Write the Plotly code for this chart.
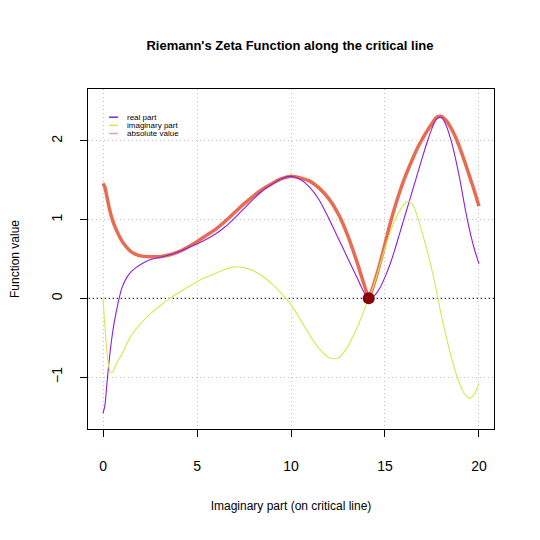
import plotly.graph_objects as go

# values
t_vals = [0, 0.1, 0.2, 0.3, 0.4, 0.5, 0.6, 0.8, 1.0, 1.25, 1.5, 1.75, 2,
          2.5, 3, 3.5, 4, 4.5, 5, 5.5, 6, 6.5, 7, 7.5, 8, 8.5, 9, 9.5, 10, 10.5,
          11, 11.5, 12, 12.5, 13, 13.5,
          13.75, 14, 14.13, 14.25,
          14.5, 14.75, 15, 15.25, 15.5, 15.75, 16, 16.25, 16.5, 16.75, 17, 17.25,
          17.5, 17.75, 18, 18.25, 18.5, 18.75, 19, 19.25, 19.5, 19.75, 20]
real_part = [-1.46, -1.36, -1.10, -0.85, -0.63, -0.45, -0.30, -0.06, 0.13, 0.26, 0.34, 0.39, 0.43,
             0.49, 0.52, 0.55, 0.59, 0.64, 0.69, 0.75, 0.82, 0.91, 1.02, 1.14, 1.26, 1.37, 1.45,
             1.52, 1.55, 1.51, 1.41, 1.25, 1.02, 0.77, 0.52, 0.27,
             0.14, 0.03, 0.0, 0.005,
             0.05, 0.14, 0.27, 0.42, 0.60, 0.80, 1.00, 1.20, 1.40, 1.60, 1.80, 1.99,
             2.16, 2.28, 2.30, 2.20, 2.02, 1.78, 1.49, 1.16, 0.87, 0.63, 0.44]
imag_part = [0.0, -0.36, -0.66, -0.86, -0.94, -0.94, -0.89, -0.79, -0.71, -0.58, -0.47, -0.39, -0.32,
             -0.20, -0.10, -0.01, 0.07, 0.14, 0.21, 0.27, 0.32, 0.37, 0.40, 0.39, 0.35, 0.28, 0.18,
             0.06, -0.08, -0.27, -0.47, -0.64, -0.75, -0.76, -0.62, -0.38,
             -0.24, -0.08, 0.0, 0.07,
             0.24, 0.44, 0.64, 0.82, 0.98, 1.10, 1.19, 1.23, 1.18, 1.02, 0.82, 0.60,
             0.36, 0.08, -0.22, -0.48, -0.72, -0.93, -1.10, -1.22, -1.27, -1.22, -1.08]
abs_value = [1.46, 1.41, 1.30, 1.18, 1.08, 1.00, 0.93, 0.82, 0.73, 0.65, 0.59, 0.56, 0.54,
             0.53, 0.53, 0.55, 0.59, 0.65, 0.72, 0.80, 0.88, 0.98, 1.09, 1.20, 1.30, 1.39, 1.46,
             1.52, 1.55, 1.53, 1.49, 1.40, 1.27, 1.08, 0.81, 0.47,
             0.28, 0.09, 0.0, 0.07,
             0.25, 0.46, 0.69, 0.93, 1.14, 1.33, 1.50, 1.65, 1.79, 1.92, 2.03, 2.13,
             2.22, 2.30, 2.31, 2.26, 2.17, 2.05, 1.90, 1.73, 1.55, 1.37, 1.17]
zero_t = [14.134725]
zero_val = [0]

x_ticks = [0, 5, 10, 15, 20]
y_ticks = [-1, 0, 1, 2]

COL_RE = "#8E1EDC"
COL_IM = "#D2EA50"
COL_ABS = "rgba(230,92,62,0.9)"
FONT = "Liberation Sans, Arial, sans-serif"

fig = go.Figure()
fig.add_trace(go.Scatter(x=t_vals, y=abs_value, mode="lines", name="absolute value",
                         line=dict(color=COL_ABS, width=3.5, shape="spline", smoothing=0.8)))
fig.add_trace(go.Scatter(x=t_vals, y=real_part, mode="lines", name="real part",
                         line=dict(color=COL_RE, width=1.1, shape="spline", smoothing=0.8)))
fig.add_trace(go.Scatter(x=t_vals, y=imag_part, mode="lines", name="imaginary part",
                         line=dict(color=COL_IM, width=1.1, shape="spline", smoothing=0.8)))
fig.add_trace(go.Scatter(x=zero_t, y=zero_val, mode="markers", name="zero",
                         marker=dict(color="#8B0000", size=12)))

# dotted zero line across the whole box
fig.add_shape(type="line", xref="paper", x0=0, x1=1, yref="y", y0=0, y1=0,
              line=dict(color="black", width=1, dash="2px,2px"), layer="below")

# hand-made legend like R's legend(bty="n")
legend_items = [("real part", COL_RE), ("imaginary part", COL_IM), ("absolute value", "#E8A0A0")]
for i, (label, col) in enumerate(legend_items):
    yy = 0.917 - i * 0.024
    fig.add_shape(type="line", xref="paper", yref="paper", x0=0.052, x1=0.074, y0=yy, y1=yy,
                  line=dict(color=col, width=1.5))
    fig.add_annotation(x=0.092, y=yy, xref="paper", yref="paper", text=label, showarrow=False,
                       xanchor="left", yanchor="middle",
                       font=dict(family=FONT, size=8, color="black"))

# the page body adds an 8px margin, so the figure is drawn a little smaller
fig.update_layout(
    width=532, height=532,
    plot_bgcolor="white", paper_bgcolor="white",
    showlegend=False,
    margin=dict(l=80, r=46, t=81, b=111),
    font=dict(family=FONT, color="black"),
    title=dict(text="<b>Riemann's Zeta Function along the critical line</b>",
               x=0.53, xanchor="center", y=0.929, yanchor="middle",
               font=dict(size=13, family=FONT)),
)
fig.update_xaxes(
    range=[-0.8, 20.8], tickvals=x_ticks, ticks="outside", ticklen=7, tickcolor="black",
    showline=True, linecolor="black", linewidth=1, mirror=True, automargin=False,
    showgrid=True, gridcolor="#C4C4C4", griddash="1px,3px", gridwidth=1, zeroline=False,
    tickfont=dict(size=14), ticklabelstandoff=17,
    title=dict(text="Imaginary part (on critical line)", font=dict(size=12), standoff=28),
)
fig.update_yaxes(
    range=[-1.66, 2.66], tickvals=y_ticks, ticks="outside", ticklen=7, tickcolor="black",
    showline=True, linecolor="black", linewidth=1, mirror=True, automargin=False,
    showgrid=True, gridcolor="#C4C4C4", griddash="1px,3px", gridwidth=1, zeroline=False,
    tickfont=dict(size=14), tickangle=-90, ticklabelstandoff=12,
    title=dict(text="Function value", font=dict(size=12), standoff=28),
)

fig.write_html("out.html")
